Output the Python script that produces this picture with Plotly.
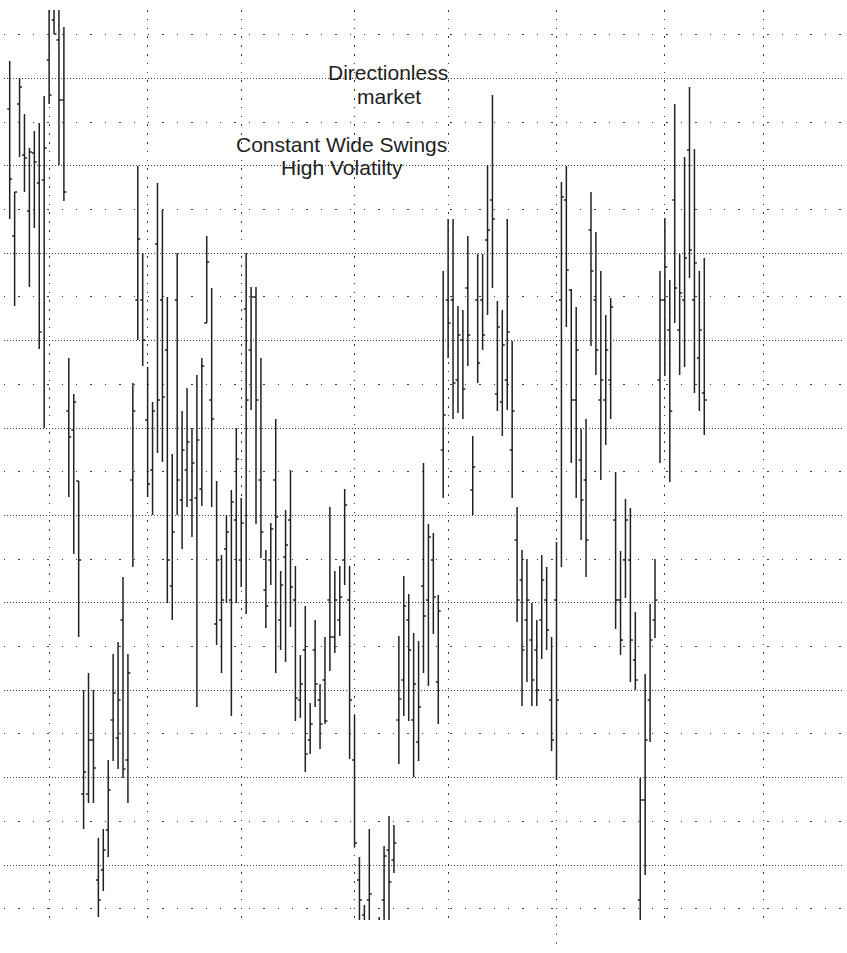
import plotly.graph_objects as go

# ---- data (arbitrary price units) ----
days = list(range(142))

highs = [939, 808, 922, 886, 852, 869, 877, 904, 1005, 1005, 1005, 973,
         642, 606, 519, 310, 327, 310, 162, 171, 240, 346, 358, 423, 346, 617,
         834, 747, 633, 598, 817, 790, 703, 546, 747, 589, 612, 572, 625, 642,
         764, 712, 519, 445, 485, 510, 572, 502, 747, 713, 713, 642, 450, 477,
         581, 429, 490, 530, 434, 345, 394, 297, 380, 316, 363, 493, 429, 434,
         511, 434, 285, 143, 95, 171, 75, 83, 154, 184, 175, 364, 424, 406,
         367, 359, 537, 476, 467, 405, 729, 781, 781, 694, 690, 764, 564, 746,
         746, 835, 905, 699, 690, 781, 659, 493, 450, 441, 397, 380, 445, 433,
         363, 458, 818, 834, 711, 693, 571, 581, 808, 768, 729, 685, 702, 528,
         449, 501, 492, 388, 222, 326, 396, 441, 729, 782, 720, 896, 746, 843,
         913, 851, 729, 742]

lows = [781, 694, 843, 808, 713, 772, 651, 572, 896, 966, 835, 799,
        503, 446, 363, 171, 197, 197, 83, 109, 143, 239, 231, 222, 197, 433,
        660, 634, 503, 485, 547, 538, 397, 380, 485, 451, 493, 463, 293, 494,
        677, 493, 355, 327, 397, 284, 397, 413, 386, 590, 476, 442, 372, 415,
        327, 350, 338, 373, 279, 282, 228, 246, 293, 251, 276, 329, 347, 364,
        415, 241, 153, 70, 65, 65, 40, 55, 65, 65, 127, 236, 284, 279,
        223, 239, 327, 314, 366, 276, 502, 642, 581, 587, 581, 634, 485, 617,
        650, 685, 712, 589, 564, 590, 502, 378, 294, 318, 294, 294, 341, 350,
        249, 220, 433, 673, 537, 502, 460, 423, 654, 625, 520, 555, 581, 371,
        345, 402, 318, 310, 75, 125, 258, 362, 537, 624, 518, 677, 625, 633,
        722, 607, 589, 565]

opens = [891, 764, 896, 845, 789, 847, 817, 820, 940, 980, 960, 900,
         589, 570, 519, 206, 206, 260, 120, 130, 170, 280, 262, 380, 240, 520,
         700, 700, 580, 530, 756, 700, 650, 414, 700, 500, 530, 500, 502, 511,
         677, 600, 376, 380, 451, 400, 480, 440, 691, 650, 703, 520, 410, 440,
         520, 380, 443, 480, 400, 300, 350, 260, 350, 300, 320, 400, 363, 380,
         440, 400, 240, 120, 85, 100, 65, 70, 100, 150, 140, 280, 320, 380,
         280, 258, 414, 400, 440, 318, 550, 700, 700, 620, 660, 712, 510, 700,
         700, 760, 800, 606, 598, 620, 550, 460, 420, 380, 360, 350, 380, 400,
         300, 400, 700, 800, 710, 600, 540, 520, 770, 700, 600, 600, 620, 480,
         400, 440, 440, 340, 100, 200, 300, 380, 620, 700, 670, 800, 670, 700,
         850, 700, 642, 607]

closes = [821, 808, 913, 842, 848, 838, 668, 852, 905, 966, 900, 808,
          563, 598, 440, 228, 260, 232, 100, 150, 210, 307, 300, 231, 327, 589,
          761, 660, 516, 589, 600, 603, 440, 468, 520, 550, 558, 537, 560, 634,
          738, 581, 440, 400, 468, 498, 541, 477, 600, 703, 600, 468, 394, 471,
          483, 415, 455, 413, 302, 316, 246, 276, 316, 276, 279, 363, 400, 403,
          495, 300, 157, 100, 75, 106, 50, 75, 144, 118, 157, 301, 394, 350,
          316, 293, 384, 463, 403, 389, 585, 677, 617, 665, 611, 665, 533, 637,
          665, 770, 781, 673, 655, 668, 589, 400, 350, 400, 320, 310, 420, 370,
          260, 300, 803, 730, 600, 650, 500, 460, 729, 650, 620, 650, 693, 400,
          360, 480, 360, 320, 200, 260, 360, 400, 700, 733, 589, 712, 707, 742,
          750, 737, 670, 600]

month_starts = [8, 28, 47, 70, 89, 111, 133, 153]

notes = ["Directionless", "market", "Constant Wide Swings", "High Volatilty"]
note_x = [76.8, 76.9, 67.4, 67.5]
note_y = [927.5, 903.5, 855.5, 833]

# ---- figure ----
X0, X1 = -1.157, 169.16
Y0, Y1 = 80, 990
bar_color = "#222222"

fig = go.Figure(go.Ohlc(
    x=days, open=opens, high=highs, low=lows, close=closes,
    increasing=dict(line=dict(color=bar_color, width=1.5)),
    decreasing=dict(line=dict(color=bar_color, width=1.5)),
    tickwidth=0.5,
    showlegend=False,
    hoverinfo="skip",
))

grid_color = "#3a3a3a"

fig.update_layout(
    width=847, height=953,
    margin=dict(l=4, r=4, t=10, b=33),
    paper_bgcolor="white", plot_bgcolor="white",
    xaxis=dict(
        range=[X0, X1], rangeslider=dict(visible=False),
        tickmode="array", tickvals=month_starts,
        showticklabels=False, ticks="",
        showgrid=True, gridcolor=grid_color, gridwidth=1,
        griddash="1.5px,7.3px",
        zeroline=False, showline=False, fixedrange=True,
    ),
    yaxis=dict(
        range=[Y0, Y1],
        tick0=135, dtick=87.4,
        showticklabels=False, ticks="",
        showgrid=True, gridcolor=grid_color, gridwidth=1,
        griddash="1px,2px",
        minor=dict(tick0=135, dtick=43.7, showgrid=True,
                   gridcolor=grid_color, gridwidth=1,
                   griddash="1.3px,13.1px"),
        zeroline=False, showline=False, fixedrange=True,
    ),
    font=dict(family="Liberation Sans, Arial, sans-serif", color="#222222"),
)

# the year-boundary grid line runs a little below the plot
gx = (month_starts[5] - X0) / (X1 - X0)
fig.add_shape(type="line", xref="paper", yref="paper",
              x0=gx, x1=gx, y0=-0.026, y1=0,
              line=dict(color=grid_color, width=1, dash="1.5px,7.3px"))

for t, xx, yy in zip(notes, note_x, note_y):
    fig.add_annotation(x=xx, y=yy, xref="x", yref="y", text=t,
                       showarrow=False, xanchor="center", yanchor="middle",
                       font=dict(size=21, color="#1e1e1e",
                                 family="Liberation Sans, Arial, sans-serif"))

fig.write_html(
    "out.html",
    config={"displayModeBar": False, "staticPlot": True},
    post_script="document.body.style.margin='0';document.body.style.padding='0';",
)
